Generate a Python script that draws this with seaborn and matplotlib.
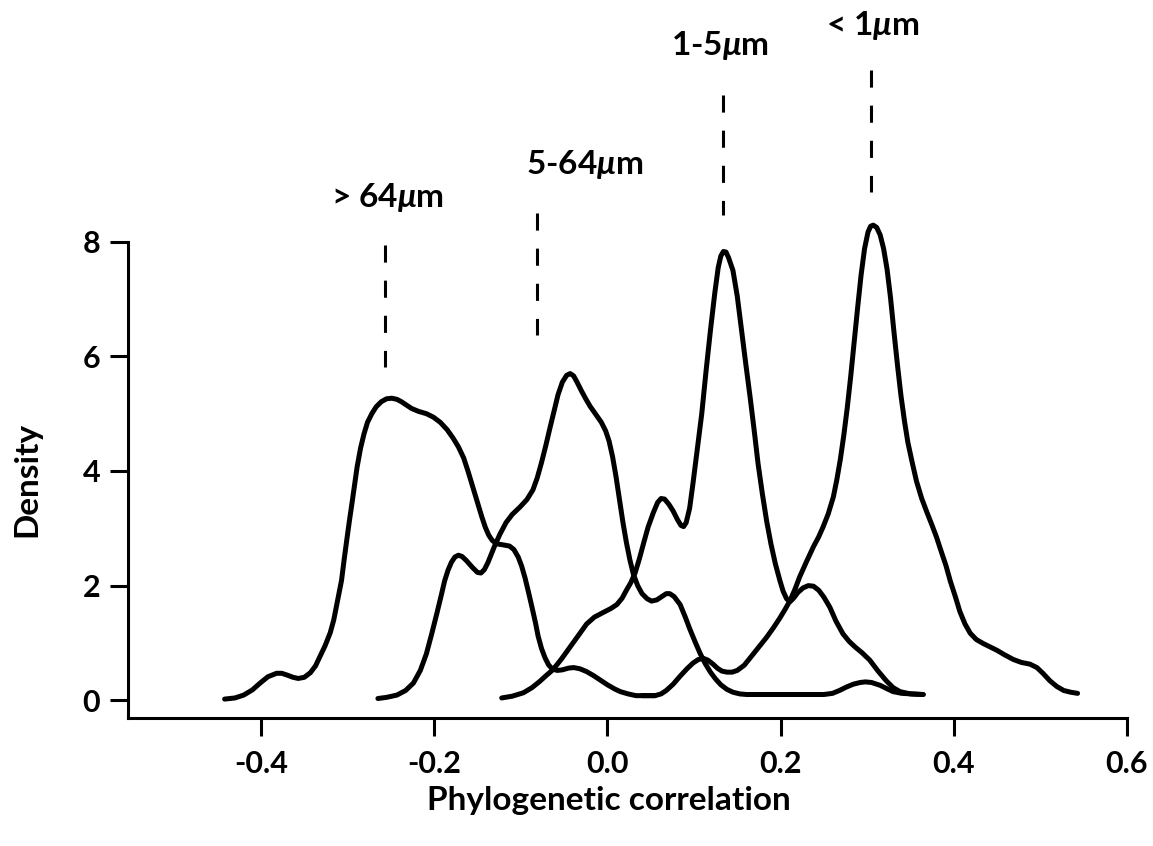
import matplotlib
matplotlib.use("Agg")
import matplotlib.pyplot as plt
import seaborn as sns
import pandas as pd

# ---------------- data ----------------
gt64_x = [-0.442, -0.430, -0.420, -0.410, -0.401, -0.392, -0.382, -0.376, -0.370, -0.363,
          -0.357, -0.350, -0.343, -0.337, -0.332, -0.326, -0.320, -0.316, -0.313, -0.310,
          -0.307, -0.304, -0.301, -0.298, -0.295, -0.292, -0.289, -0.285, -0.281, -0.277,
          -0.272, -0.267, -0.261, -0.255, -0.249, -0.243, -0.238, -0.232, -0.226, -0.218,
          -0.209, -0.201, -0.193, -0.185, -0.178, -0.172, -0.166, -0.161, -0.156, -0.150,
          -0.145, -0.141, -0.137, -0.133, -0.128, -0.120, -0.113, -0.108, -0.103, -0.099,
          -0.095, -0.091, -0.087, -0.083, -0.080, -0.076, -0.072, -0.068, -0.064, -0.058,
          -0.052, -0.045, -0.039, -0.032, -0.024, -0.016, -0.008, 0.000, 0.008, 0.015,
          0.024, 0.033, 0.045, 0.055]
gt64_y = [0.02, 0.04, 0.09, 0.18, 0.30, 0.41, 0.47, 0.47, 0.44, 0.40,
          0.38, 0.40, 0.48, 0.60, 0.76, 0.95, 1.18, 1.40, 1.63, 1.86,
          2.09, 2.45, 2.79, 3.12, 3.43, 3.75, 4.07, 4.40, 4.65, 4.85,
          5.00, 5.12, 5.21, 5.26, 5.27, 5.25, 5.21, 5.15, 5.09, 5.04,
          5.00, 4.94, 4.85, 4.72, 4.57, 4.42, 4.23, 4.00, 3.75, 3.45,
          3.20, 3.02, 2.88, 2.79, 2.73, 2.71, 2.69, 2.63, 2.50, 2.34,
          2.13, 1.88, 1.62, 1.35, 1.12, 0.90, 0.74, 0.62, 0.55, 0.52,
          0.53, 0.56, 0.57, 0.55, 0.50, 0.43, 0.35, 0.27, 0.20, 0.15,
          0.11, 0.08, 0.08, 0.08]

s5_64_x = [-0.265, -0.255, -0.243, -0.233, -0.224, -0.216, -0.209, -0.203, -0.197, -0.192,
           -0.188, -0.184, -0.180, -0.176, -0.172, -0.168, -0.163, -0.156, -0.150, -0.146,
           -0.142, -0.138, -0.134, -0.130, -0.124, -0.117, -0.110, -0.101, -0.093, -0.086,
           -0.081, -0.076, -0.071, -0.066, -0.061, -0.057, -0.052, -0.047, -0.043, -0.039,
           -0.035, -0.030, -0.025, -0.020, -0.013, -0.007, -0.002, 0.002, 0.006, 0.010,
           0.014, 0.018, 0.022, 0.026, 0.030, 0.035, 0.040, 0.046, 0.051, 0.057,
           0.063, 0.068, 0.072, 0.077, 0.084, 0.090, 0.095, 0.101, 0.107, 0.113,
           0.119, 0.125, 0.131, 0.138, 0.145, 0.153, 0.161, 0.180, 0.200, 0.230,
           0.250, 0.260, 0.268, 0.276, 0.284, 0.292, 0.298, 0.305, 0.315, 0.323,
           0.330, 0.340, 0.352, 0.365]
s5_64_y = [0.03, 0.05, 0.09, 0.17, 0.30, 0.52, 0.81, 1.15, 1.51, 1.82,
           2.08, 2.27, 2.41, 2.50, 2.53, 2.51, 2.44, 2.32, 2.23, 2.22,
           2.28, 2.40, 2.55, 2.70, 2.90, 3.10, 3.24, 3.37, 3.50, 3.67,
           3.88, 4.15, 4.45, 4.77, 5.08, 5.33, 5.55, 5.67, 5.70, 5.66,
           5.55, 5.40, 5.26, 5.13, 4.98, 4.85, 4.70, 4.52, 4.25, 3.90,
           3.50, 3.10, 2.75, 2.45, 2.20, 2.00, 1.86, 1.77, 1.73, 1.75,
           1.81, 1.86, 1.86, 1.81, 1.67, 1.45, 1.25, 1.03, 0.82, 0.64,
           0.49, 0.37, 0.27, 0.19, 0.14, 0.11, 0.10, 0.10, 0.10, 0.10,
           0.10, 0.12, 0.17, 0.23, 0.28, 0.31, 0.32, 0.31, 0.26, 0.20,
           0.15, 0.12, 0.11, 0.10]

s1_5_x = [-0.122, -0.110, -0.097, -0.087, -0.078, -0.070, -0.063, -0.053, -0.043, -0.033,
          -0.024, -0.015, -0.005, 0.004, 0.011, 0.017, 0.022, 0.027, 0.032, 0.037,
          0.042, 0.047, 0.053, 0.058, 0.062, 0.066, 0.071, 0.076, 0.081, 0.085,
          0.088, 0.091, 0.095, 0.099, 0.104, 0.109, 0.114, 0.119, 0.124, 0.128,
          0.131, 0.134, 0.137, 0.140, 0.145, 0.150, 0.155, 0.160, 0.165, 0.170,
          0.174, 0.179, 0.184, 0.189, 0.194, 0.199, 0.203, 0.207, 0.211, 0.215,
          0.220, 0.226, 0.232, 0.238, 0.244, 0.250, 0.257, 0.264, 0.272, 0.279,
          0.286, 0.294, 0.303, 0.312, 0.322, 0.330, 0.338, 0.350, 0.363]
s1_5_y = [0.04, 0.07, 0.13, 0.22, 0.33, 0.44, 0.53, 0.72, 0.93, 1.14,
          1.33, 1.45, 1.53, 1.60, 1.67, 1.78, 1.92, 2.05, 2.22, 2.47,
          2.75, 3.02, 3.27, 3.45, 3.52, 3.51, 3.42, 3.30, 3.15, 3.05,
          3.03, 3.10, 3.35, 3.80, 4.40, 5.00, 5.75, 6.45, 7.10, 7.55,
          7.75, 7.83, 7.82, 7.72, 7.50, 7.05, 6.45, 5.85, 5.27, 4.65,
          4.13, 3.60, 3.12, 2.72, 2.38, 2.10, 1.90, 1.77, 1.72, 1.78,
          1.88, 1.96, 2.00, 1.99, 1.92, 1.80, 1.62, 1.38, 1.16, 1.03,
          0.93, 0.83, 0.70, 0.52, 0.34, 0.22, 0.15, 0.11, 0.10]

lt1_x = [0.040, 0.055, 0.062, 0.068, 0.076, 0.084, 0.092, 0.099, 0.105, 0.111,
         0.116, 0.122, 0.127, 0.132, 0.138, 0.144, 0.150, 0.158, 0.166, 0.175,
         0.184, 0.192, 0.199, 0.205, 0.211, 0.217, 0.222, 0.230, 0.238, 0.244,
         0.249, 0.255, 0.261, 0.265, 0.269, 0.273, 0.277, 0.281, 0.285, 0.289,
         0.293, 0.297, 0.301, 0.304, 0.307, 0.311, 0.315, 0.319, 0.323, 0.327,
         0.331, 0.335, 0.339, 0.343, 0.347, 0.352, 0.357, 0.363, 0.369, 0.375,
         0.380, 0.385, 0.391, 0.396, 0.402, 0.407, 0.413, 0.419, 0.426, 0.434,
         0.442, 0.450, 0.459, 0.469, 0.478, 0.488, 0.496, 0.503, 0.511, 0.519,
         0.527, 0.535, 0.543]
lt1_y = [0.08, 0.08, 0.11, 0.17, 0.28, 0.42, 0.55, 0.65, 0.71, 0.73,
         0.70, 0.63, 0.56, 0.51, 0.49, 0.49, 0.52, 0.61, 0.76, 0.93,
         1.10, 1.27, 1.43, 1.58, 1.74, 1.95, 2.15, 2.42, 2.68, 2.85,
         3.02, 3.25, 3.55, 3.85, 4.20, 4.62, 5.10, 5.65, 6.25, 6.85,
         7.42, 7.88, 8.17, 8.27, 8.29, 8.25, 8.12, 7.88, 7.52, 7.02,
         6.42, 5.85, 5.32, 4.88, 4.50, 4.15, 3.82, 3.52, 3.28, 3.05,
         2.85, 2.62, 2.35, 2.08, 1.80, 1.55, 1.33, 1.17, 1.06, 0.99,
         0.93, 0.87, 0.79, 0.71, 0.66, 0.63, 0.57, 0.47, 0.34, 0.24,
         0.17, 0.14, 0.12]

size_labels = ["> 64$\\mu$m", "5-64$\\mu$m", "1-5$\\mu$m", "< 1$\\mu$m"]
label_x = [-0.254, -0.026, 0.130, 0.307]
label_y = [8.78, 9.34, 11.43, 11.78]
dash_x = [-0.257, -0.081, 0.133, 0.305]
dash_top = [7.94, 8.50, 10.56, 11.00]
dash_bottom = [5.81, 6.37, 8.46, 8.87]

x_ticks = [-0.4, -0.2, 0.0, 0.2, 0.4, 0.6]
x_ticklabels = ["-0.4", "-0.2", "0.0", "0.2", "0.4", "0.6"]
y_ticks = [0, 2, 4, 6, 8]
y_ticklabels = ["0", "2", "4", "6", "8"]

# ---------------- build long table ----------------
frames = []
for name, xs, ys in [("> 64", gt64_x, gt64_y), ("5-64", s5_64_x, s5_64_y),
                     ("1-5", s1_5_x, s1_5_y), ("< 1", lt1_x, lt1_y)]:
    frames.append(pd.DataFrame({"corr": xs, "density": ys, "size": name}))
df = pd.concat(frames, ignore_index=True)

# ---------------- style ----------------
sns.set_theme(style="ticks")
plt.rcParams["font.family"] = ["Lato", "DejaVu Sans"]
plt.rcParams["font.weight"] = "bold"
plt.rcParams["text.color"] = "black"
plt.rcParams["axes.labelcolor"] = "black"
plt.rcParams["xtick.color"] = "black"
plt.rcParams["ytick.color"] = "black"
plt.rcParams["mathtext.fontset"] = "custom"
plt.rcParams["mathtext.rm"] = "Lato:bold"
plt.rcParams["mathtext.it"] = "Lato:italic:bold"
plt.rcParams["mathtext.bf"] = "Lato:bold"

fig = plt.figure(figsize=(11.53, 8.46), dpi=100)
ax = fig.add_axes([0.111, 0.1513, 0.8664, 0.8251])

sns.lineplot(data=df, x="corr", y="density", units="size", estimator=None,
             sort=False, color="black", linewidth=3.6, ax=ax)
for ln in ax.lines:
    ln.set_solid_capstyle("round")
    ln.set_solid_joinstyle("round")

for xx, yt, yb in zip(dash_x, dash_top, dash_bottom):
    ax.plot([xx, xx], [yt, yb], color="black", linewidth=2.2,
            linestyle=(0, (5.6, 5.9)), clip_on=False)

for lab, xx, yy in zip(size_labels, label_x, label_y):
    ax.text(xx, yy, lab, ha="center", va="center", fontsize=24,
            fontweight="bold", color="black")

ax.set_xlim(-0.5536, 0.6)
ax.set_ylim(-0.31, 11.87)
ax.set_xticks(x_ticks)
ax.set_xticklabels(x_ticklabels)
ax.set_yticks(y_ticks)
ax.set_yticklabels(y_ticklabels)

for side in ["top", "right"]:
    ax.spines[side].set_visible(False)
ax.spines["left"].set_bounds(-0.31, 8)
ax.spines["left"].set_linewidth(2.2)
ax.spines["bottom"].set_linewidth(2.2)
ax.spines["left"].set_color("black")
ax.spines["bottom"].set_color("black")
ax.tick_params(axis="both", direction="out", length=13, width=2.2, color="black",
               labelsize=22, labelcolor="black")
ax.tick_params(axis="x", pad=10)
ax.tick_params(axis="y", pad=7)

ax.set_xlabel("Phylogenetic correlation", fontsize=24, fontweight="bold",
              va="center", color="black")
ax.set_ylabel("Density", fontsize=24, fontweight="bold", va="center", color="black")
ax.xaxis.set_label_coords(0.4815, -0.1175)
ax.yaxis.set_label_coords(-0.101, 0.342)
ax.grid(False)

fig.savefig("out.png", dpi=100, facecolor="white")
